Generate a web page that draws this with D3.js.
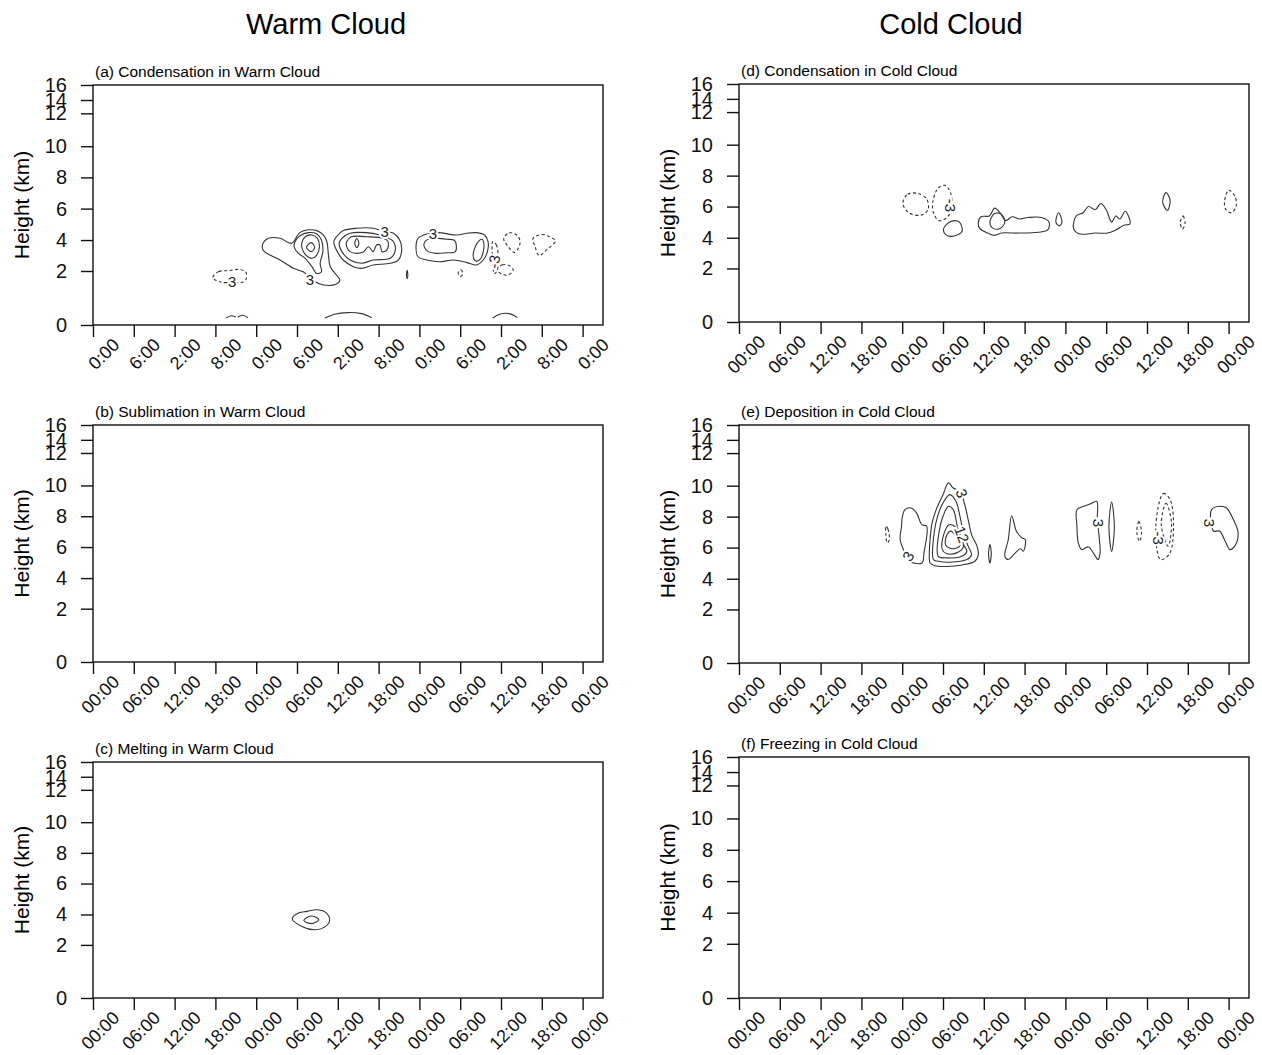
<!DOCTYPE html>
<html>
<head>
<meta charset="utf-8">
<script src="https://cdn.jsdelivr.net/npm/d3@7"></script>
<style>
  body { margin: 0; background: #fff; }
  svg { font-family: "Liberation Sans", Arial, Helvetica, sans-serif; }
  .frame { fill: none; stroke: #111; stroke-width: 1.4; }
  .axis path { display: none; }
  .axis line { stroke: #111; stroke-width: 1.4; }
  .axis text { fill: #111; }
  .cnt { fill: none; stroke: #333; stroke-width: 1.1; }
  .cnt.neg { stroke-dasharray: 3 2.5; }
  .clab { font-size: 15px; fill: #222; paint-order: stroke; stroke: #fff; stroke-width: 4px; }
</style>
</head>
<body>
<svg id="chart" width="1262" height="1055"></svg>
<script>
// time axis (hours from start), 6-hourly ticks
const timeTicks = [0, 6, 12, 18, 24, 30, 36, 42, 48, 54, 60, 66, 72];
const timeLabels = ["00:00", "06:00", "12:00", "18:00", "00:00", "06:00", "12:00",
                    "18:00", "00:00", "06:00", "12:00", "18:00", "00:00"];
// panel (a) shows its labels with the first digit cut off
const timeLabelsCut = ["0:00", "6:00", "2:00", "8:00", "0:00", "6:00", "2:00",
                       "8:00", "0:00", "6:00", "2:00", "8:00", "0:00"];
const heightTicks = [0, 2, 4, 6, 8, 10, 12, 14, 16];

// contour lines: level and [hour, km] vertices
const condWarm = [
  { level: 3, pts: [[25.0,3.79],[25.8,4.11],[27.5,4.11],[29.2,3.79],[30.4,4.47],[31.7,4.65],[32.9,4.6],[33.9,4.32],[34.4,3.89],[34.6,3.14],[34.9,2.28],[35.8,1.85],[36.3,1.67],[35.8,1.52],[33.9,1.48],[32.4,1.64],[30.9,1.97],[29.5,2.17],[27.5,2.71],[26.0,3.03],[25.0,3.35]] },
  { level: 6, pts: [[29.7,3.89],[30.4,4.26],[31.7,4.47],[32.9,4.39],[33.6,4.0],[33.8,3.25],[33.4,2.5],[33.6,1.97],[32.9,1.91],[32.2,2.28],[31.2,2.82],[30.2,3.14],[29.6,3.53]] },
  { level: 9, pts: [[30.7,3.79],[31.2,4.21],[32.2,4.32],[33.0,4.11],[33.3,3.57],[32.9,3.03],[32.2,2.82],[31.3,3.03],[30.8,3.4]] },
  { level: 12, pts: [[31.4,3.53],[32.1,3.83],[32.6,3.53],[32.1,3.25]] },
  { level: 3, pts: [[35.8,4.21],[36.8,4.6],[38.8,4.75],[41.2,4.75],[42.9,4.54],[44.2,4.43],[45.1,4.0],[45.4,3.35],[44.9,2.71],[43.7,2.5],[41.2,2.39],[39.5,2.17],[38.3,2.28],[36.8,2.71],[35.8,3.35],[35.4,3.89]] },
  { level: 6, pts: [[36.6,4.11],[37.8,4.43],[40.2,4.47],[42.2,4.32],[42.9,4.21],[44.2,3.89],[44.4,3.25],[43.7,2.82],[41.2,2.71],[39.5,2.5],[37.8,2.71],[36.6,3.25],[36.2,3.79]] },
  { level: 9, pts: [[37.3,3.89],[38.0,4.21],[40.2,4.21],[42.7,4.11],[43.4,3.89],[43.2,3.35],[42.5,3.25],[42.2,3.68],[41.7,3.68],[41.2,3.25],[40.5,3.57],[39.8,3.25],[38.8,3.14],[37.8,3.25],[37.3,3.57]] },
  { level: 12, pts: [[38.5,3.8],[38.8,4.1],[39.1,3.8],[38.8,3.5]] },
  { level: 3, pts: [[47.8,4.11],[49.1,4.39],[50.8,4.47],[53.5,4.32],[55.0,4.43],[56.4,4.47],[57.6,4.32],[58.1,3.89],[58.0,3.25],[57.4,2.71],[56.4,2.39],[55.0,2.54],[53.0,2.71],[51.0,2.6],[49.1,2.71],[47.8,2.92],[47.5,3.57]] },
  { level: 6, pts: [[48.8,3.89],[49.8,4.11],[52.0,4.05],[53.2,3.96],[53.3,3.25],[52.0,3.18],[50.5,3.14],[49.3,3.25],[48.7,3.57]] },
  { level: 6, pts: [[55.9,3.0],[56.5,3.8],[57.2,4.05],[57.5,3.6],[57.0,2.8],[56.3,2.65]] },
  { level: 3, pts: [[46.1,1.85],[46.2,2.05],[46.3,1.85],[46.2,1.72]] },
  { level: -3, pts: [[17.6,1.75],[18.5,1.98],[20.0,2.02],[21.5,2.1],[22.5,1.95],[22.4,1.65],[21.0,1.55],[19.0,1.58]] },
  { level: -3, pts: [[58.8,3.9],[59.3,3.7],[59.6,2.9],[59.4,2.0],[59.0,1.9],[58.8,2.6]] },
  { level: -3, pts: [[59.4,2.1],[60.2,2.4],[61.2,2.35],[61.8,2.05],[61.0,1.85],[60.0,1.9]] },
  { level: -3, pts: [[60.4,4.1],[61.2,4.45],[62.4,4.3],[62.8,3.8],[62.0,3.2],[61.0,3.6]] },
  { level: -3, pts: [[64.7,4.1],[66.0,4.35],[67.2,4.2],[68.0,3.95],[66.8,3.4],[65.6,3.0],[65.0,3.6]] },
  { level: -3, pts: [[53.7,1.95],[54.1,2.08],[54.4,1.9],[54.0,1.8]] }
];
// short open pieces near the surface
const condWarmOpen = [
  { level: 3, pts: [[19.6,0.26],[20.3,0.34],[21.0,0.3]] },
  { level: 3, pts: [[21.3,0.3],[22.0,0.36],[22.8,0.27]] },
  { level: 3, pts: [[34.1,0.26],[35.5,0.4],[37.5,0.46],[39.5,0.42],[41.0,0.27]] },
  { level: 3, pts: [[58.8,0.26],[59.8,0.4],[61.2,0.42],[62.4,0.28]] }
];
const condWarmLabels = [
  { text: "3", h: 31.9, km: 1.67, rot: 0 },
  { text: "3", h: 42.9, km: 4.54, rot: 0 },
  { text: "3", h: 50.0, km: 4.43, rot: 0 },
  { text: "-3", h: 20.1, km: 1.6, rot: 0 },
  { text: "-3", h: 59.0, km: 2.6, rot: -80 }
];

const meltWarm = [
  { level: 3, pts: [[29.3,3.7],[30.0,4.05],[31.5,4.2],[33.0,4.3],[34.3,4.1],[34.8,3.6],[34.0,3.15],[32.5,3.0],[30.8,3.2]] },
  { level: 6, pts: [[31.0,3.6],[32.1,3.9],[33.2,3.65],[32.2,3.4]] }
];

const condCold = [
  { level: -3, pts: [[24.1,6.2],[24.8,6.8],[26.3,6.85],[27.6,6.5],[27.8,5.8],[26.8,5.45],[25.0,5.6]] },
  { level: -3, pts: [[28.5,6.3],[29.3,7.2],[30.3,7.37],[31.1,6.9],[31.3,6.0],[30.6,5.3],[29.4,5.1],[28.6,5.6]] },
  { level: 3, pts: [[30.1,4.6],[31.2,5.05],[32.4,5.0],[32.8,4.4],[31.5,4.1],[30.4,4.2]] },
  { level: 3, pts: [[35.2,5.0],[35.6,5.35],[36.8,5.4],[37.6,5.9],[38.4,5.6],[39.2,5.1],[40.2,5.35],[41.2,5.2],[42.5,5.3],[44.5,5.3],[45.6,5.0],[45.4,4.5],[44.0,4.35],[41.0,4.3],[38.6,4.3],[37.6,4.15],[36.6,4.3],[35.4,4.6]] },
  { level: 6, pts: [[36.9,5.0],[37.6,5.55],[38.6,5.5],[39.1,5.0],[38.4,4.6],[37.4,4.6]] },
  { level: 3, pts: [[46.6,5.0],[47.0,5.6],[47.5,5.0],[47.1,4.76]] },
  { level: 3, pts: [[49.2,4.6],[49.6,5.4],[50.6,5.6],[51.4,6.0],[52.4,5.8],[53.2,6.2],[54.0,5.8],[54.8,5.0],[55.4,5.4],[56.0,5.2],[56.8,5.7],[57.5,4.9],[56.6,4.8],[55.4,4.5],[54.2,4.3],[52.4,4.3],[50.0,4.25]] },
  { level: 3, pts: [[62.3,6.3],[62.8,6.9],[63.4,6.4],[63.0,5.75]] },
  { level: -3, pts: [[64.9,5.0],[65.3,5.4],[65.6,4.9],[65.2,4.56]] },
  { level: -3, pts: [[71.4,6.3],[72.0,7.05],[72.9,6.7],[73.1,6.0],[72.4,5.6],[71.6,5.8]] }
];
const condColdLabels = [
  { text: "-3", h: 31.0, km: 6.07, rot: 90 }
];

const depoCold = [
  { level: -3, pts: [[21.6,7.4],[21.9,7.2],[22.1,6.5],[21.8,6.3],[21.6,6.8]] },
  { level: 3, pts: [[23.9,7.38],[23.7,6.52],[24.4,5.66],[25.1,5.12],[26.9,5.01],[27.2,5.66],[27.6,7.38],[26.9,7.48],[26.1,8.24],[25.3,8.56],[24.4,8.45],[24.0,7.92]] },
  { level: 3, pts: [[28.0,5.23],[28.1,6.52],[28.4,7.59],[29.0,8.45],[30.0,9.42],[30.8,10.17],[31.5,9.85],[32.5,9.63],[33.2,8.77],[33.7,7.81],[34.2,6.84],[35.0,6.09],[35.2,5.55],[34.7,5.12],[33.0,4.9],[30.5,4.79],[28.8,4.84],[28.1,5.01]] },
  { level: 6, pts: [[28.6,5.23],[28.7,6.95],[29.2,8.02],[30.0,8.88],[31.0,9.42],[31.9,8.99],[32.5,8.02],[33.0,6.95],[33.7,6.09],[34.2,5.55],[33.5,5.23],[31.0,5.06],[29.3,5.12]] },
  { level: 9, pts: [[29.3,5.44],[29.4,6.95],[30.0,8.02],[30.8,8.67],[31.5,8.45],[32.1,7.38],[32.7,6.41],[33.5,5.76],[32.5,5.4],[30.5,5.34]] },
  { level: 12, pts: [[29.9,5.87],[30.1,6.84],[30.9,7.48],[31.7,7.38],[32.5,6.84],[33.0,6.04],[32.0,5.66],[30.5,5.62]] },
  { level: 15, pts: [[30.4,6.15],[30.6,6.84],[31.2,7.06],[32.0,6.63],[32.5,6.13],[31.5,5.92]] },
  { level: 3, pts: [[36.7,5.6],[36.9,6.2],[37.1,5.6],[36.9,5.0]] },
  { level: 3, pts: [[39.1,5.44],[39.6,6.52],[40.1,8.06],[40.8,7.06],[41.6,6.63],[42.1,6.52],[41.8,5.76],[41.4,5.92],[40.4,5.55],[39.6,5.23]] },
  { level: 3, pts: [[49.7,8.45],[50.7,8.67],[51.6,8.81],[52.6,8.99],[52.7,7.81],[53.0,6.52],[53.1,5.66],[52.8,5.23],[52.1,5.66],[51.4,6.04],[50.4,5.87],[49.9,6.3],[49.7,7.38]] },
  { level: 3, pts: [[54.4,7.35],[54.8,8.95],[55.2,7.35],[54.8,5.75]] },
  { level: -3, pts: [[58.5,7.0],[58.8,7.7],[59.2,7.0],[58.9,6.4]] },
  { level: -3, pts: [[61.3,7.4],[62.4,9.5],[63.4,9.1],[63.9,7.4],[63.3,5.6],[62.0,5.23]] },
  { level: -6, pts: [[62.1,7.5],[62.8,8.88],[63.6,7.6],[63.1,6.09]] },
  { level: 3, pts: [[69.5,8.45],[70.7,8.67],[71.7,8.56],[72.7,7.81],[73.4,6.95],[72.9,6.09],[72.2,5.87],[71.5,6.41],[70.7,7.06],[69.8,7.06],[69.5,7.38]] }
];
const depoColdLabels = [
  { text: "3", h: 32.75, km: 9.5, rot: 70 },
  { text: "12", h: 32.75, km: 6.84, rot: 70 },
  { text: "3", h: 24.9, km: 5.44, rot: -60 },
  { text: "3", h: 52.8, km: 7.6, rot: 90 },
  { text: "-3", h: 61.7, km: 6.6, rot: 90 },
  { text: "3", h: 69.2, km: 7.6, rot: 90 }
];

const panels = [
  { title: "(a) Condensation in Warm Cloud", lines: condWarm, open: condWarmOpen, labels: condWarmLabels, xlab: timeLabelsCut },
  { title: "(b) Sublimation in Warm Cloud", lines: [], open: [], labels: [], xlab: timeLabels },
  { title: "(c) Melting in Warm Cloud", lines: meltWarm, open: [], labels: [], xlab: timeLabels },
  { title: "(d) Condensation in Cold Cloud", lines: condCold, open: [], labels: condColdLabels, xlab: timeLabels },
  { title: "(e) Deposition in Cold Cloud", lines: depoCold, open: [], labels: depoColdLabels, xlab: timeLabels },
  { title: "(f) Freezing in Cold Cloud", lines: [], open: [], labels: [], xlab: timeLabels }
];

// layout
const boxes = [
  { x: 93, y: 85, h: 240 },
  { x: 93, y: 425, h: 237 },
  { x: 93, y: 762, h: 236 },
  { x: 739, y: 84, h: 238 },
  { x: 739, y: 425, h: 238 },
  { x: 739, y: 757, h: 241 }
];
const boxW = 510;
// the height axis is stretched near the ground (model levels)
const heightFrac = [0, 0.225, 0.354, 0.485, 0.615, 0.745, 0.882, 0.9375, 1];

const svg = d3.select('#chart');

svg.append('text').attr('x', 326).attr('y', 34).attr('text-anchor', 'middle')
  .style('font-size', '29px').text('Warm Cloud');
svg.append('text').attr('x', 951).attr('y', 34).attr('text-anchor', 'middle')
  .style('font-size', '29px').text('Cold Cloud');

panels.forEach((p, i) => drawPanel(p, boxes[i]));

function drawPanel(p, b) {
  const g = svg.append('g').attr('transform', `translate(${b.x},${b.y})`);
  const x = d3.scaleLinear().domain([0, 75]).range([0, boxW]);
  const y = d3.scaleLinear().domain(heightTicks).range(heightFrac.map(f => b.h * (1 - f)));

  const closed = d3.line().x(d => x(d[0])).y(d => y(d[1])).curve(d3.curveCatmullRomClosed.alpha(0.5));
  const open = d3.line().x(d => x(d[0])).y(d => y(d[1])).curve(d3.curveCatmullRom.alpha(0.5));

  g.selectAll('path.c').data(p.lines).join('path')
    .attr('class', d => 'cnt c' + (d.level < 0 ? ' neg' : ''))
    .attr('d', d => closed(d.pts));
  g.selectAll('path.o').data(p.open).join('path')
    .attr('class', d => 'cnt o' + (d.level < 0 ? ' neg' : ''))
    .attr('d', d => open(d.pts));

  g.selectAll('text.clab').data(p.labels).join('text')
    .attr('class', 'clab')
    .attr('text-anchor', 'middle')
    .attr('dy', '0.35em')
    .attr('transform', d => `translate(${x(d.h)},${y(d.km)}) rotate(${d.rot})`)
    .text(d => d.text);

  // y axis
  g.append('g').attr('class', 'axis')
    .call(d3.axisLeft(y).tickValues(heightTicks).tickSize(12).tickSizeOuter(0).tickPadding(14))
    .selectAll('text').style('font-size', '20px');

  // x axis with slanted labels
  const xa = g.append('g').attr('class', 'axis').attr('transform', `translate(0,${b.h})`)
    .call(d3.axisBottom(x).tickValues(timeTicks).tickSize(12).tickSizeOuter(0)
      .tickFormat((d, k) => p.xlab[k]));
  xa.selectAll('text')
    .attr('x', 0).attr('y', 0).attr('dy', 0)
    .attr('text-anchor', 'end')
    .attr('transform', 'translate(27,21) rotate(-45)')
    .style('font-size', '18px');

  g.append('rect').attr('class', 'frame').attr('width', boxW).attr('height', b.h);

  g.append('text').attr('x', 2).attr('y', -8).style('font-size', '15.5px').text(p.title);

  g.append('text')
    .attr('transform', `translate(-64,${b.h / 2}) rotate(-90)`)
    .attr('text-anchor', 'middle')
    .style('font-size', '21px')
    .text('Height (km)');
}
</script>
</body>
</html>
